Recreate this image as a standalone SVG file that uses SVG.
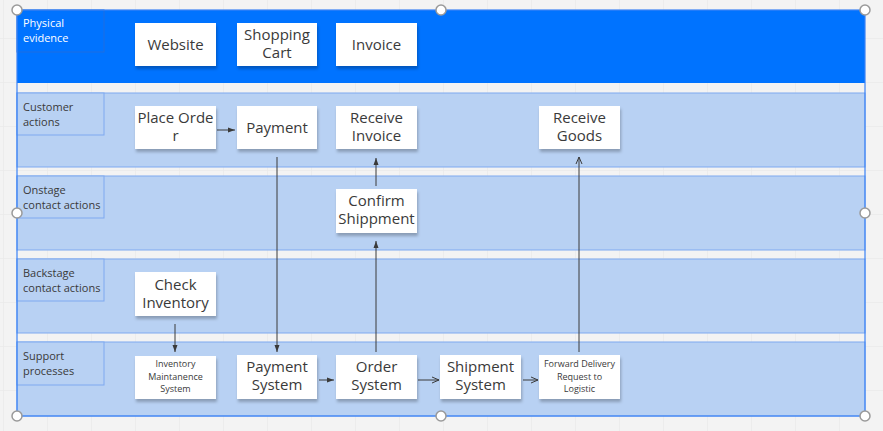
<svg xmlns="http://www.w3.org/2000/svg" width="883" height="431" viewBox="0 0 883 431">
<defs>
<style>
.lane{fill:#b8d1f3;stroke:#7ea9f0;stroke-width:1}
.lbl{fill:#b8d1f3;stroke:#7ea9f0;stroke-width:1}
.lt{font-family:"Open Sans","Liberation Sans",sans-serif;font-size:11px;fill:#3a3a3a}
.lw{font-family:"Open Sans","Liberation Sans",sans-serif;font-size:11px;fill:#ffffff}
.note{fill:#ffffff;filter:url(#sh)}
.nt{font-family:"Open Sans","Liberation Sans",sans-serif;font-size:15px;fill:#3a3a3a;text-anchor:middle}
.st{font-family:"Open Sans","Liberation Sans",sans-serif;font-size:9px;fill:#3a3a3a;text-anchor:middle}
.c{fill:none;stroke:#3a3a3a;stroke-width:1}
.h{fill:#ffffff;stroke:#9a9a9a;stroke-width:1.5}
</style>
<pattern id="grid" x="3" y="38" width="44" height="44" patternUnits="userSpaceOnUse">
<path d="M0 0H44M0 0V44" fill="none" stroke="#e6e6e6" stroke-width="1"/>
</pattern>
<filter id="sh" x="-10%" y="-10%" width="120%" height="140%">
<feDropShadow dx="1" dy="3" stdDeviation="1.5" flood-color="#000" flood-opacity="0.25"/>
</filter>
<marker id="af" markerWidth="8" markerHeight="8" refX="7" refY="4" orient="auto" markerUnits="userSpaceOnUse">
<path d="M0 1.5L7 4L0 6.5Z" fill="#3a3a3a"/>
</marker>
<marker id="ao" markerWidth="8" markerHeight="8" refX="7" refY="4" orient="auto" markerUnits="userSpaceOnUse">
<path d="M0 1L7 4L0 7" fill="none" stroke="#3a3a3a" stroke-width="1"/>
</marker>
</defs>
<rect width="883" height="431" fill="#f3f3f3"/>
<rect width="883" height="431" fill="url(#grid)"/>

<g id="lanes">
<g id="lane-physical">
<rect x="17" y="10" width="848" height="73" fill="#0073ff"/>
<rect x="17" y="10" width="87" height="42" fill="#0073ff" stroke="#1f6fe0" stroke-width="1"/>
<text class="lw" x="23" y="27">Physical</text>
<text class="lw" x="23" y="42">evidence</text>
</g>
<g id="lane-customer">
<rect class="lane" x="17" y="93" width="848" height="74"/>
<rect class="lbl" x="17" y="93" width="87" height="42"/>
<text class="lt" x="23" y="111">Customer</text>
<text class="lt" x="23" y="126">actions</text>
</g>
<g id="lane-onstage">
<rect class="lane" x="17" y="176" width="848" height="74"/>
<rect class="lbl" x="17" y="176" width="87" height="42"/>
<text class="lt" x="23" y="194">Onstage</text>
<text class="lt" x="23" y="209">contact actions</text>
</g>
<g id="lane-backstage">
<rect class="lane" x="17" y="259" width="848" height="74"/>
<rect class="lbl" x="17" y="259" width="87" height="42"/>
<text class="lt" x="23" y="277">Backstage</text>
<text class="lt" x="23" y="292">contact actions</text>
</g>
<g id="lane-support">
<rect class="lane" x="17" y="342" width="848" height="74"/>
<rect class="lbl" x="17" y="342" width="87" height="43"/>
<text class="lt" x="23" y="360">Support</text>
<text class="lt" x="23" y="375">processes</text>
</g>
</g>

<g id="connectors">
<line class="c" x1="217" y1="130" x2="235" y2="130" marker-end="url(#af)"/>
<line class="c" x1="277" y1="157" x2="277" y2="352" marker-end="url(#af)"/>
<line class="c" x1="175" y1="324" x2="175" y2="352" marker-end="url(#af)"/>
<line class="c" x1="319" y1="380" x2="334" y2="380" marker-end="url(#af)"/>
<line class="c" x1="376" y1="352" x2="376" y2="241" marker-end="url(#af)"/>
<line class="c" x1="376" y1="186" x2="376" y2="158" marker-end="url(#af)"/>
<line class="c" x1="418" y1="380" x2="439" y2="380" marker-end="url(#ao)"/>
<line class="c" x1="523" y1="380" x2="538" y2="380" marker-end="url(#ao)"/>
<line class="c" x1="579" y1="352" x2="579" y2="157" marker-end="url(#ao)"/>
</g>

<g id="website"><rect class="note" x="135" y="23" width="81" height="43"/><text class="nt" x="175.5" y="50">Website</text></g>
<g id="shopping-cart"><rect class="note" x="237" y="23" width="80" height="43"/><text class="nt" x="277" y="40">Shopping</text><text class="nt" x="277" y="58">Cart</text></g>
<g id="invoice"><rect class="note" x="336" y="23" width="81" height="43"/><text class="nt" x="376.5" y="50">Invoice</text></g>

<g id="place-order"><rect class="note" x="135" y="106" width="81" height="43"/><text class="nt" x="175.5" y="123">Place Orde</text><text class="nt" x="175.5" y="141">r</text></g>
<g id="payment"><rect class="note" x="237" y="106" width="80" height="43"/><text class="nt" x="277" y="133">Payment</text></g>
<g id="receive-invoice"><rect class="note" x="336" y="106" width="81" height="43"/><text class="nt" x="376.5" y="123">Receive</text><text class="nt" x="376.5" y="141">Invoice</text></g>
<g id="receive-goods"><rect class="note" x="539" y="106" width="81" height="43"/><text class="nt" x="579.5" y="123">Receive</text><text class="nt" x="579.5" y="141">Goods</text></g>

<g id="confirm-shippment"><rect class="note" x="336" y="189" width="81" height="44"/><text class="nt" x="376.5" y="206">Confirm</text><text class="nt" x="376.5" y="224">Shippment</text></g>

<g id="check-inventory"><rect class="note" x="135" y="272" width="81" height="44"/><text class="nt" x="175.5" y="290">Check</text><text class="nt" x="175.5" y="308">Inventory</text></g>

<g id="inventory-maintanence"><rect class="note" x="135" y="356" width="81" height="43"/><text class="st" x="175.5" y="367">Inventory</text><text class="st" x="175.5" y="380">Maintanence</text><text class="st" x="175.5" y="392">System</text></g>
<g id="payment-system"><rect class="note" x="237" y="355" width="80" height="44"/><text class="nt" x="277" y="372">Payment</text><text class="nt" x="277" y="390">System</text></g>
<g id="order-system"><rect class="note" x="336" y="355" width="81" height="44"/><text class="nt" x="376.5" y="372">Order</text><text class="nt" x="376.5" y="390">System</text></g>
<g id="shipment-system"><rect class="note" x="440" y="355" width="81" height="44"/><text class="nt" x="480.5" y="372">Shipment</text><text class="nt" x="480.5" y="390">System</text></g>
<g id="forward-delivery"><rect class="note" x="539" y="355" width="81" height="44"/><text class="st" x="579.5" y="367">Forward Delivery</text><text class="st" x="579.5" y="380">Request to</text><text class="st" x="579.5" y="392">Logistic</text></g>

<g id="selection">
<rect x="17" y="10" width="848" height="406" fill="none" stroke="#3b82f6" stroke-width="1.2"/>
<circle class="h" cx="17" cy="10" r="5"/>
<circle class="h" cx="441" cy="10" r="5"/>
<circle class="h" cx="865" cy="10" r="5"/>
<circle class="h" cx="17" cy="213" r="5"/>
<circle class="h" cx="865" cy="213" r="5"/>
<circle class="h" cx="17" cy="416" r="5"/>
<circle class="h" cx="441" cy="416" r="5"/>
<circle class="h" cx="865" cy="416" r="5"/>
</g>
</svg>
